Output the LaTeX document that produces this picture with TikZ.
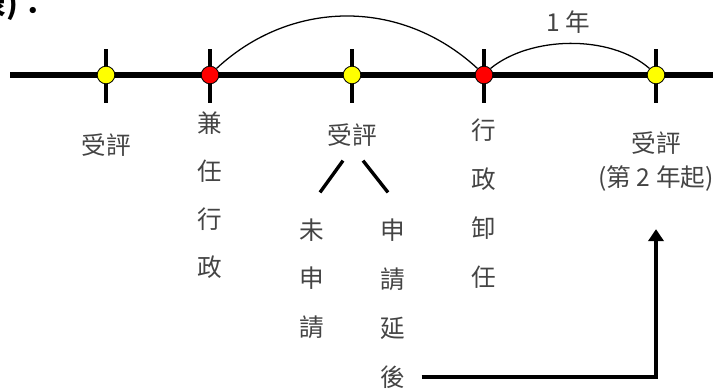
\documentclass[tikz,border=0pt]{standalone}
\usepackage{fontspec}
\setmainfont{Noto Sans CJK TC}
\usepackage{tikz}
\usepackage{xcolor}
\usetikzlibrary{calc,arrows.meta}
\begin{document}
\begin{tikzpicture}[x=0.025cm,y=-0.025cm,
  mydot/.style={circle,draw=black,line width=0.6pt,minimum size=0.44cm,inner sep=0},
  mytick/.style={line width=2.6pt},
  mylabel/.style={text=labelgray,font=\fontsize{17.5}{17.5}\selectfont,inner sep=0},
  myarc/.style={line width=0.9pt},
  mybranch/.style={line width=2.4pt},
  myarrow/.style={line width=2.8pt,-{Triangle[length=0.3cm,width=0.38cm]}}]
\definecolor{labelgray}{HTML}{444444}
\definecolor{dotyellow}{HTML}{FFFF00}
\definecolor{dotred}{HTML}{FF0000}
\useasboundingbox (0,0) rectangle (723,388);
\node[anchor=base east,inner sep=0,font=\fontsize{21}{21}\bfseries\selectfont] (head) at (48,15) {表)：};
\draw[line width=3.6pt] (10,75) -- (713,75);
  \foreach \name/\crlr/\pos in {d1/dotyellow/106,d2/dotred/210,d3/dotyellow/352,d4/dotred/484,d5/dotyellow/656}
  { \draw[mytick] (\pos,49) -- (\pos,103);
    \node [mydot,fill=\crlr] (\name) at (\pos,75) {};}
\draw[myarc] (d2.north east) .. controls (290,0) and (400,-3) .. (d4.north west);
\draw[myarc] (d4.north east) .. controls (530,36) and (610,34) .. (d5.north west);
\node[mylabel] (year) at (568,22) {1 年};
\node[mylabel] (ev1) at (106,145) {受評};
\node[mylabel] (ev2) at (352,135) {受評};
\node[mylabel] (ev5) at (656,143) {受評};
\node[mylabel] (ev5b) at (656,178) {(第 2 年起)};
  \foreach \ch/\row in {兼/0,任/1,行/2,政/3}
  {  \node [mylabel] (jr\row) at (210,123+48*\row) {\ch};}
  \foreach \ch/\row in {行/0,政/1,卸/2,任/3}
  {  \node [mylabel] (xz\row) at (484,130+49*\row) {\ch};}
  \foreach \ch/\row in {未/0,申/1,請/2}
  {  \node [mylabel] (ws\row) at (312,230+48.5*\row) {\ch};}
  \foreach \ch/\row in {申/0,請/1,延/2,後/3}
  {  \node [mylabel] (sq\row) at (393,230+49*\row) {\ch};}
\draw[mybranch] ($(ev2.south)+(-9,14)$) -- ($(ws0.north)+(8,-26)$);
\draw[mybranch] ($(ev2.south)+(11,14)$) -- ($(sq0.north)+(-5,-26)$);
\draw[myarrow,shorten <=0.4cm,shorten >=0.95cm] (sq3.east) -| (ev5b.south);
\end{tikzpicture}
\end{document}
